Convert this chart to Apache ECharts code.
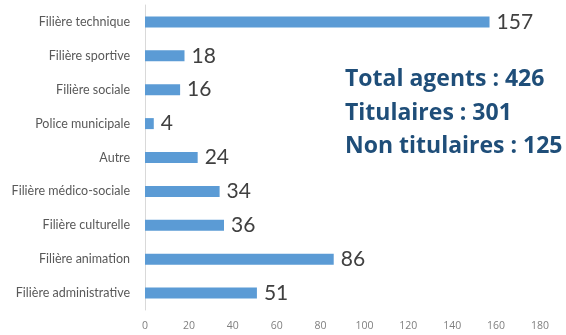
<!DOCTYPE html>
<html>
<head>
<meta charset="utf-8">
<script src="https://cdn.jsdelivr.net/npm/echarts@6/dist/echarts.min.js"></script>
<style>
  html, body { margin: 0; padding: 0; background: #ffffff; }
  #chart { width: 566px; height: 335px; }
</style>
</head>
<body>
<div id="chart"></div>
<script>
// Effectifs par filière (listed bottom to top, as the category axis draws them)
const categories = [
  'Filière administrative',
  'Filière animation',
  'Filière culturelle',
  'Filière médico-sociale',
  'Autre',
  'Police municipale',
  'Filière sociale',
  'Filière sportive',
  'Filière technique'
];
const agents = [51, 86, 36, 34, 24, 4, 16, 18, 157];
const axisTicks = [0, 20, 40, 60, 80, 100, 120, 140, 160, 180];
const summaryLines = ['Total agents : 426', 'Titulaires : 301', 'Non titulaires : 125'];

const chart = echarts.init(document.getElementById('chart'), null, { renderer: 'canvas' });

chart.setOption({
  animation: false,
  backgroundColor: '#ffffff',
  grid: { left: 145, right: 26, top: 5, bottom: 25, containLabel: false },
  xAxis: {
    type: 'value',
    min: axisTicks[0],
    max: axisTicks[axisTicks.length - 1],
    interval: axisTicks[1] - axisTicks[0],
    axisLine: { show: false },
    axisTick: { show: false },
    splitLine: { show: false },
    axisLabel: { color: '#7f7f7f', fontSize: 10.5, fontFamily: 'Open Sans', margin: 11 }
  },
  yAxis: {
    type: 'category',
    data: categories,
    axisLine: { show: true, lineStyle: { color: '#d9d9d9', width: 1 } },
    axisTick: { show: false },
    axisLabel: { color: '#595959', fontSize: 12.5, fontFamily: 'Lato', margin: 15 }
  },
  series: [{
    type: 'bar',
    data: agents,
    barWidth: 11,
    itemStyle: { color: '#5b9bd5' },
    label: {
      show: true,
      position: 'right',
      distance: 7,
      color: '#404040',
      fontSize: 21,
      fontFamily: 'Lato'
    }
  }],
  graphic: summaryLines.map((line, i) => ({
    type: 'text',
    left: 345,
    top: 68 + i * 33.5,
    style: {
      text: line,
      fill: '#1f4e79',
      font: 'bold 23px "Open Sans"'
    }
  }))
});
</script>
</body>
</html>
